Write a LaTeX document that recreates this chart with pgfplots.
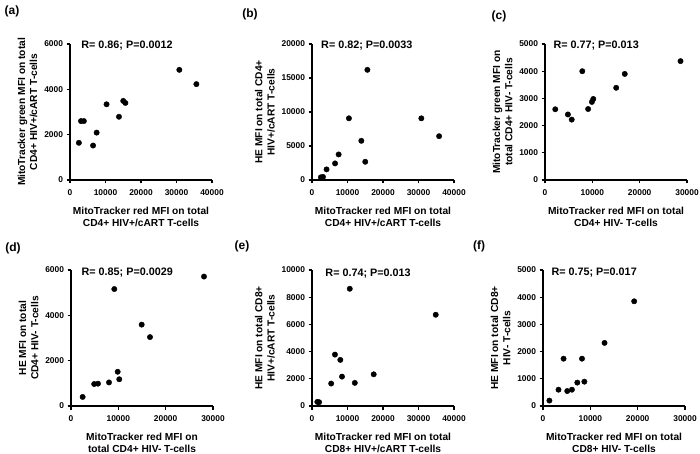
\documentclass[border=0pt]{standalone}
\usepackage{pgfplots}
\pgfplotsset{compat=1.18}
\usepackage{fontspec}
\setmainfont{Liberation Sans}
\pgfplotsset{
  panel/.style={
    scale only axis, width=142pt, height=136pt,
    axis x line*=bottom, axis y line*=left,
    axis line style={line width=1.5pt,-},
    x axis line style={line width=1.5pt,-},
    y axis line style={line width=1.5pt,-},
    tick align=outside, major tick length=3.5pt,
    every tick/.style={black, line width=1.2pt},
    tick label style={font=\bfseries\fontsize{8.4}{9}\selectfont},
    xticklabel style={yshift=-3pt},
    label style={font=\bfseries\fontsize{10.2}{12.2}\selectfont, align=center},
    xlabel style={yshift=-4.5pt},
    xmin=0, ymin=0, enlargelimits=false,
    scaled ticks=false,
    /pgf/number format/1000 sep={},
    /pgf/number format/assume math mode=true,
    clip=false,
  },
  pts/.style={black, only marks, mark=*, mark size=2.7pt, mark options={fill=black, draw=black}},
}
\tikzset{rtext/.style={anchor=west, font=\bfseries\fontsize{10.8}{12}\selectfont},
  plab/.style={font=\bfseries\fontsize{12}{14}\selectfont}}
\begin{document}
\begin{tikzpicture}
\path[use as bounding box] (0,0) rectangle (700pt,-454pt);
\node[plab] at (12pt,-11pt) {(a)};
\node[plab] at (250pt,-14pt) {(b)};
\node[plab] at (499pt,-16pt) {(c)};
\node[plab] at (13pt,-248pt) {(d)};
\node[plab] at (242pt,-246pt) {(e)};
\node[plab] at (479pt,-246pt) {(f)};

% (a)
\begin{axis}[panel, at={(70pt,-180pt)}, anchor=south west,
  xmax=40000, ymax=6000, xtick={0,10000,20000,30000,40000}, ytick={0,2000,4000,6000},
  xlabel={MitoTracker red MFI on total\\CD4+ HIV+/cART T-cells},
  ylabel={MitoTracker green MFI on total\\CD4+ HIV+/cART T-cells}]
\addplot[pts] coordinates {(2500,1640) (3100,2600) (3900,2600) (6500,1520) (7500,2090) (10300,3340) (13800,2790) (15000,3490) (15600,3400) (30800,4860) (35600,4230)};
\node[rtext] at (rel axis cs:0.055,0.985) {R= 0.86; P=0.0012};
\end{axis}

% (b)
\begin{axis}[panel, at={(312pt,-180pt)}, anchor=south west,
  xmax=40000, ymax=20000, xtick={0,10000,20000,30000,40000}, ytick={0,5000,10000,15000,20000},
  xlabel={MitoTracker red MFI on total\\CD4+ HIV+/cART T-cells},
  ylabel={HE MFI on total CD4+\\HIV+/cART T-cells}]
\addplot[pts] coordinates {(2500,400) (3100,450) (4100,1560) (6500,2440) (7500,3760) (10400,9070) (13900,5760) (15000,2680) (15600,16200) (30800,9070) (35800,6440)};
\node[rtext] at (rel axis cs:0.04,0.985) {R= 0.82; P=0.0033};
\end{axis}

% (c)
\begin{axis}[panel, at={(545pt,-180pt)}, anchor=south west,
  xmax=30000, ymax=5000, xtick={0,10000,20000,30000}, ytick={0,1000,2000,3000,4000,5000},
  xlabel={MitoTracker red MFI on total\\CD4+ HIV- T-cells},
  ylabel={MitoTracker green MFI on\\total CD4+ HIV- T-cells}]
\addplot[pts] coordinates {(2170,2600) (4840,2410) (5640,2220) (7880,4000) (9110,2610) (9910,2870) (10200,2980) (15040,3390) (16850,3900) (28630,4370)};
\node[rtext] at (rel axis cs:0.035,0.985) {R= 0.77; P=0.013};
\end{axis}

% (d)
\begin{axis}[panel, at={(71pt,-406pt)}, anchor=south west,
  xmax=30000, ymax=6000, xtick={0,10000,20000,30000}, ytick={0,2000,4000,6000},
  xlabel={MitoTracker red MFI on\\total CD4+ HIV- T-cells},
  ylabel={HE MFI on total\\CD4+ HIV- T-cells}]
\addplot[pts] coordinates {(2460,400) (4900,970) (5700,985) (8030,1040) (9150,5160) (9860,1510) (10200,1180) (14930,3590) (16690,3040) (28100,5710)};
\node[rtext] at (rel axis cs:0.05,0.98) {R= 0.85; P=0.0029};
\end{axis}

% (e)
\begin{axis}[panel, at={(312pt,-406pt)}, anchor=south west,
  xmax=40000, ymax=10000, xtick={0,10000,20000,30000,40000}, ytick={0,2000,4000,6000,8000,10000},
  xlabel={MitoTracker red MFI on total\\CD8+ HIV+/cART T-cells},
  ylabel={HE MFI on total CD8+\\HIV+/cART T-cells}]
\addplot[pts] coordinates {(1500,300) (2000,280) (5400,1650) (6460,3780) (7980,3390) (8450,2160) (10640,8620) (12060,1700) (17380,2330) (34850,6710)};
\node[rtext] at (rel axis cs:0.07,0.975) {R= 0.74; P=0.013};
\end{axis}

% (f)
\begin{axis}[panel, at={(543pt,-406pt)}, anchor=south west,
  xmax=30000, ymax=5000, xtick={0,10000,20000,30000}, ytick={0,1000,2000,3000,4000,5000},
  xlabel={MitoTracker red MFI on total\\CD8+ HIV- T-cells},
  ylabel={HE MFI on total CD8+\\HIV- T-cells}]
\addplot[pts] coordinates {(1350,200) (3270,600) (4340,1740) (5120,550) (6110,600) (7250,860) (8240,1740) (8740,895) (13000,2320) (19260,3850)};
\node[rtext] at (rel axis cs:0.035,0.98) {R= 0.75; P=0.017};
\end{axis}
\end{tikzpicture}
\end{document}
